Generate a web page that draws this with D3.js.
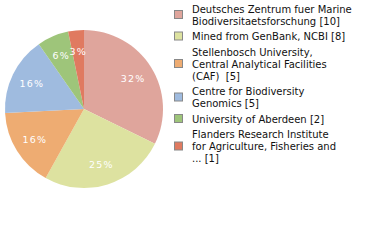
<!DOCTYPE html>
<html><head><meta charset="utf-8">
<script src="https://cdn.jsdelivr.net/npm/d3@7"></script>
<style>html,body{margin:0;padding:0;background:#fff;}svg{display:block;}text{white-space:pre;}</style>
</head><body>
<svg id="c" width="380" height="240"></svg>
<script>
const labels = [
  ["Deutsches Zentrum fuer Marine", "Biodiversitaetsforschung [10]"],
  ["Mined from GenBank, NCBI [8]"],
  ["Stellenbosch University,", "Central Analytical Facilities", "(CAF)  [5]"],
  ["Centre for Biodiversity", "Genomics [5]"],
  ["University of Aberdeen [2]"],
  ["Flanders Research Institute", "for Agriculture, Fisheries and", "... [1]"]
];
const values = [10, 8, 5, 5, 2, 1];
const colors = ["#dfa59c", "#dde2a0", "#eeac72", "#9fbbdf", "#9ec57a", "#e07a60"];

const svg = d3.select("#c");
const cx = 84, cy = 109, r = 79;
const total = d3.sum(values);
const pie = d3.pie().sort(null).value(d => d);
const arcs = pie(values);
const arc = d3.arc().innerRadius(0).outerRadius(r);
const labelArc = d3.arc().innerRadius(58).outerRadius(58);
const g = svg.append("g").attr("transform", `translate(${cx},${cy})`);
g.selectAll("path").data(arcs).join("path")
  .attr("d", arc).attr("fill", (d, i) => colors[i]);
g.selectAll("text").data(arcs).join("text")
  .attr("transform", d => `translate(${labelArc.centroid(d)})`)
  .attr("text-anchor", "middle").attr("dy", "0.35em")
  .attr("fill", "#fff").attr("font-family", "DejaVu Sans").attr("font-size", 9.5)
  .attr("letter-spacing", 1.2)
  .text(d => Math.floor(d.data / total * 100) + "%");

const lg = svg.append("g");
let y = 3;
const lh = 12;
labels.forEach((lines, i) => {
  const h = lines.length * lh;
  lg.append("rect").attr("x", 174.5).attr("y", y + h / 2 - 4.5).attr("width", 8).attr("height", 8)
    .attr("fill", colors[i]).attr("stroke", "#888").attr("stroke-width", 1);
  const t = lg.append("text").attr("font-family", "DejaVu Sans").attr("font-size", 10).attr("fill", "#111");
  lines.forEach((l, j) => {
    t.append("tspan").attr("x", 192).attr("y", y + 9.5 + j * lh).text(l);
  });
  y += h + 3.5;
});
</script>
</body></html>
